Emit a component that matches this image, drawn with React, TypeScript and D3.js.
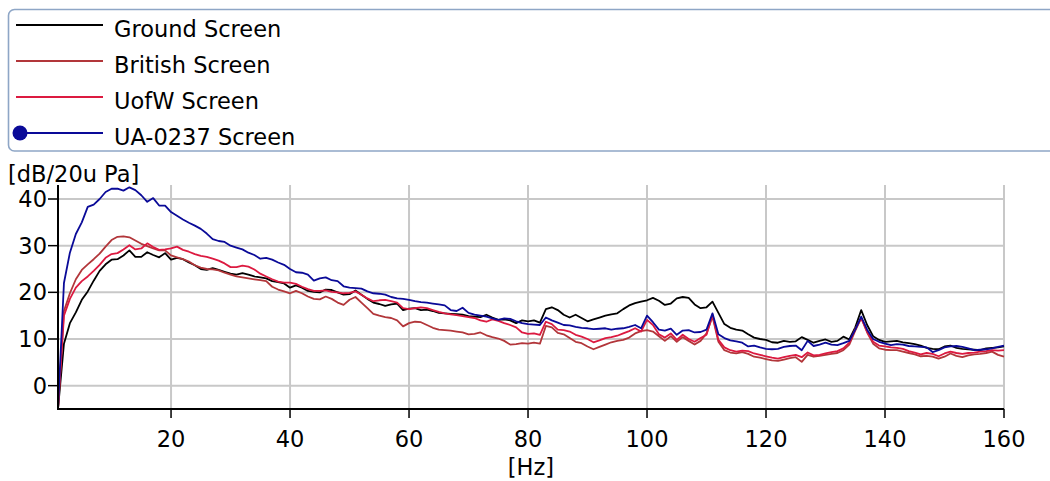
import React from 'react';
import * as d3 from 'd3';

// frequency bins, 1 Hz apart
const freqs = d3.range(1, 161);

const groundScreen = [
  -5, 9, 13.4, 15.7, 18.4, 20.2, 22.5, 24.6, 26.0, 27.0,
  27.1, 27.9, 29.0, 27.6, 27.6, 28.6, 28.0, 27.5, 28.4, 27.0,
  27.4, 27.1, 26.4, 25.8, 25.0, 24.8, 25.2, 24.8, 24.4, 24.0,
  23.8, 24.1, 23.8, 23.4, 23.2, 23.0, 22.4, 22.2, 21.9, 21.0,
  21.5, 21.0, 20.3, 20.1, 20.0, 20.6, 20.5, 20.0, 19.5, 19.6,
  20.4, 19.5, 18.6, 17.8, 17.5, 17.1, 17.4, 17.6, 16.2, 16.5,
  16.6, 16.2, 16.3, 16.0, 15.6, 15.5, 15.4, 15.3, 15.2, 14.9,
  14.8, 14.7, 15.2, 14.6, 14.1, 14.2, 14.0, 13.4, 14.0, 13.8,
  14.0, 13.5, 16.4, 16.8, 16.2, 15.2, 14.6, 15.2, 14.5, 13.8,
  14.2, 14.6, 15.0, 15.3, 15.5, 16.4, 17.2, 17.7, 18.0, 18.3,
  18.8, 18.2, 17.3, 17.6, 18.7, 19.0, 18.8, 17.4, 16.6, 16.8,
  18.0, 15.6, 13.2, 12.4, 12.0, 11.8, 11.0, 10.3, 10.0, 9.8,
  9.3, 9.2, 9.6, 9.4, 9.5, 10.4, 9.8, 9.2, 9.6, 9.9,
  9.4, 9.6, 10.5, 9.9, 12.5, 16.2, 13.0, 10.6, 9.8, 9.4,
  9.5, 9.6, 9.3, 9.1, 8.9, 8.6, 8.1, 7.9, 7.8, 8.4,
  8.6, 8.1, 7.9, 7.8, 7.7, 7.6, 8.0, 8.1, 8.2, 8.4,
];

const britishScreen = [
  -5, 16, 19.8, 22.8, 24.8, 26.0, 27.1, 28.3, 29.8, 31.2,
  31.9, 32.0, 31.8, 31.1, 30.4, 29.9, 29.4, 29.0, 29.0, 27.9,
  27.5, 27.1, 26.6, 25.8, 25.3, 25.0, 24.9, 24.7, 24.2, 23.8,
  23.4, 23.2, 23.0, 22.8, 22.6, 22.4, 21.2, 20.6, 20.2, 19.8,
  20.3, 19.8, 19.1, 18.6, 18.5, 19.1, 18.6, 17.8, 17.3, 18.4,
  19.0, 17.8, 16.6, 15.4, 15.0, 14.7, 14.5, 14.0, 12.7, 13.4,
  13.7, 13.6, 13.0, 12.4, 12.0, 11.9, 11.8, 11.6, 11.4, 11.0,
  11.1, 11.4, 10.8, 10.4, 10.1, 9.6, 8.8, 8.9, 9.1, 9.0,
  9.2, 9.0, 12.8, 12.5, 11.3, 11.0, 10.2, 9.4, 9.1, 8.4,
  7.8, 8.3, 8.8, 9.3, 9.6, 9.8, 10.3, 11.2, 11.7, 11.9,
  11.6, 10.6, 9.6, 10.6, 9.4, 10.4, 9.6, 8.8, 9.6, 11.2,
  14.8, 9.4, 7.6, 7.1, 6.9, 7.2, 6.8, 6.2, 6.0, 5.7,
  5.4, 5.3, 5.6, 5.9, 6.1, 5.1, 6.6, 6.2, 6.4, 6.6,
  6.8, 7.0, 7.6, 8.8, 11.8, 14.5, 11.4, 9.0, 8.0, 7.7,
  7.6, 7.6, 7.3, 7.0, 6.7, 6.3, 6.4, 6.2, 5.8, 6.2,
  6.9, 6.4, 6.1, 6.5, 6.7, 6.8, 7.0, 7.3, 6.6, 6.2,
];

const uofwScreen = [
  -5, 15, 18.6, 21.0, 22.4, 23.4, 24.6, 25.9, 27.4, 28.2,
  28.4, 29.2, 30.1, 29.2, 29.4, 30.5, 29.7, 29.1, 29.2, 29.4,
  29.8, 29.1, 28.7, 28.2, 27.8, 27.6, 27.2, 26.8, 26.2, 25.4,
  25.4, 25.7, 25.5, 24.9, 24.0, 23.4, 22.8, 22.3, 22.1, 22.1,
  21.8, 21.2, 20.7, 20.3, 20.3, 20.4, 20.1, 20.0, 19.8, 19.9,
  20.2, 19.5, 18.7, 18.1, 18.3, 18.4, 18.1, 17.8, 16.6, 16.4,
  16.6, 16.8, 16.6, 16.2, 15.8, 15.5, 15.3, 15.1, 14.9, 14.7,
  14.5, 14.0, 13.7, 14.2, 13.9, 13.4, 13.0, 12.5, 11.4, 11.1,
  11.2, 10.9, 13.7, 13.2, 12.0, 11.9, 11.6, 10.9, 10.5, 10.0,
  9.3, 9.7, 10.2, 10.4, 10.7, 11.2, 11.7, 12.3, 11.6, 14.1,
  13.0, 11.0, 10.3, 11.2, 9.8, 10.9, 10.0, 9.4, 10.2, 10.9,
  15.2, 9.8, 8.2, 7.6, 7.3, 7.5, 7.4, 6.9, 6.6, 6.3,
  6.0, 5.8, 6.1, 6.4, 6.6, 6.1, 7.1, 6.5, 6.6, 6.9,
  7.2, 7.4, 8.0, 9.2, 12.1, 14.5, 11.6, 9.4, 8.6, 8.4,
  8.2, 8.1, 7.9, 7.4, 7.1, 6.7, 7.0, 6.8, 6.3, 6.9,
  7.3, 7.0, 6.8, 7.0, 7.1, 7.3, 7.4, 7.6, 7.5, 7.6,
];

const ua0237Screen = [
  -5, 22, 28.5, 32.5, 35.0, 38.3, 38.8, 40.0, 41.5, 42.2,
  42.2, 41.8, 42.5, 41.9, 40.8, 39.4, 40.2, 38.6, 38.6, 37.2,
  36.4, 35.6, 34.9, 34.3, 33.6, 32.6, 31.4, 31.0, 30.8, 30.0,
  29.6, 29.2, 28.5, 28.0, 27.2, 27.4, 27.0, 26.4, 25.9, 25.0,
  24.3, 24.2, 23.8, 22.5, 23.0, 23.2, 22.6, 22.4, 21.3, 21.0,
  20.9, 20.8, 20.2, 19.8, 19.7, 19.5, 19.0, 18.7, 18.6, 18.4,
  18.1, 17.9, 17.8, 17.6, 17.4, 17.2, 16.2, 16.0, 16.7, 15.6,
  15.2, 15.0, 14.8, 14.4, 14.1, 14.4, 14.3, 13.8, 13.4, 13.2,
  13.1, 13.0, 14.6, 14.0, 13.5, 13.0, 12.9, 12.6, 12.4, 12.3,
  12.1, 12.2, 12.3, 12.0, 12.2, 12.3, 12.6, 13.0, 12.3, 15.0,
  13.6, 12.0, 11.8, 12.2, 10.9, 11.8, 11.9, 11.4, 11.5, 12.0,
  15.5, 11.0, 10.2, 9.7, 9.5, 9.2, 8.4, 8.6, 8.2, 7.9,
  7.8, 7.9, 8.3, 8.5, 8.6, 7.6, 9.6, 8.5, 8.8, 9.2,
  8.8, 8.7, 9.1, 9.6, 12.0, 14.8, 12.0, 10.0, 9.4, 9.0,
  8.7, 8.9, 8.8, 8.5, 8.4, 8.3, 8.2, 7.2, 7.6, 8.2,
  8.4, 8.5, 8.3, 8.0, 7.6, 7.7, 7.8, 8.0, 8.3, 8.6,
];

const seriesNames = ['Ground Screen', 'British Screen', 'UofW Screen', 'UA-0237 Screen'];
const seriesValues = [groundScreen, britishScreen, uofwScreen, ua0237Screen];
const seriesColors = ['#000000', '#b2363a', '#dc1a40', '#0a0a98'];

const xTicks = [20, 40, 60, 80, 100, 120, 140, 160];
const yTicks = [0, 10, 20, 30, 40];

const FONT = '"DejaVu Sans", Verdana, sans-serif';

export default function App() {
  const width = 1050;
  const height = 481;
  const plot = { left: 58, right: 1004, top: 185, bottom: 409 };

  const x = d3.scaleLinear().domain([1, 160]).range([plot.left, plot.right]);
  const y = d3.scaleLinear().domain([-5, 43]).range([plot.bottom, plot.top]);

  const line = d3.line<number>()
    .x((d, i) => x(freqs[i]))
    .y(d => y(d));

  const gridColor = '#c8c8c8';

  return (
    <svg width={width} height={height} style={{ position: 'absolute', left: 0, top: 0, background: '#fff' }}
      fontFamily={FONT}>
      {/* legend */}
      <rect x={8.5} y={9.5} width={1060} height={141.5} rx={6} fill="none" stroke="#8ea6c6" strokeWidth={1.6} />
      {seriesNames.map((name, i) => {
        const cy = 25 + i * 36;
        return (
          <g key={name}>
            <line x1={16} x2={103} y1={cy} y2={cy} stroke={seriesColors[i]} strokeWidth={2} />
            {i === 3 && <circle cx={20} cy={cy} r={7.5} fill={seriesColors[i]} />}
            <text x={114} y={cy + 11.5} fontSize={22.5} fill="#000">{name}</text>
          </g>
        );
      })}

      {/* grid */}
      {yTicks.map(t => (
        <line key={'gy' + t} x1={plot.left} x2={plot.right} y1={y(t)} y2={y(t)} stroke={gridColor} strokeWidth={2} />
      ))}
      {xTicks.map(t => (
        <line key={'gx' + t} x1={x(t)} x2={x(t)} y1={plot.top} y2={plot.bottom} stroke={gridColor} strokeWidth={2} />
      ))}

      {/* series */}
      <g fill="none" strokeWidth={1.8} strokeLinejoin="round">
        {seriesValues.map((vals, i) => (
          <path key={seriesNames[i]} d={line(vals) || ''} stroke={seriesColors[i]} />
        ))}
      </g>

      {/* axes */}
      <line x1={plot.left} x2={plot.left} y1={plot.top} y2={plot.bottom + 1} stroke="#000" strokeWidth={2} />
      <line x1={plot.left} x2={plot.right} y1={plot.bottom} y2={plot.bottom} stroke="#000" strokeWidth={2} />
      {yTicks.map(t => (
        <g key={'ty' + t}>
          <line x1={plot.left - 10} x2={plot.left} y1={y(t)} y2={y(t)} stroke="#000" strokeWidth={1.5} />
          <text x={plot.left - 11} y={y(t)} dy="0.36em" textAnchor="end" fontSize={22.5}>{t}</text>
        </g>
      ))}
      {xTicks.map(t => (
        <g key={'tx' + t}>
          <line x1={x(t)} x2={x(t)} y1={plot.bottom} y2={plot.bottom + 9} stroke="#000" strokeWidth={1.5} />
          <text x={x(t)} y={447} textAnchor="middle" fontSize={22.5}>{t}</text>
        </g>
      ))}
      <text x={8} y={182} fontSize={22.5}>[dB/20u Pa]</text>
      <text x={(plot.left + plot.right) / 2} y={475} textAnchor="middle" fontSize={22.5}>[Hz]</text>
    </svg>
  );
}
